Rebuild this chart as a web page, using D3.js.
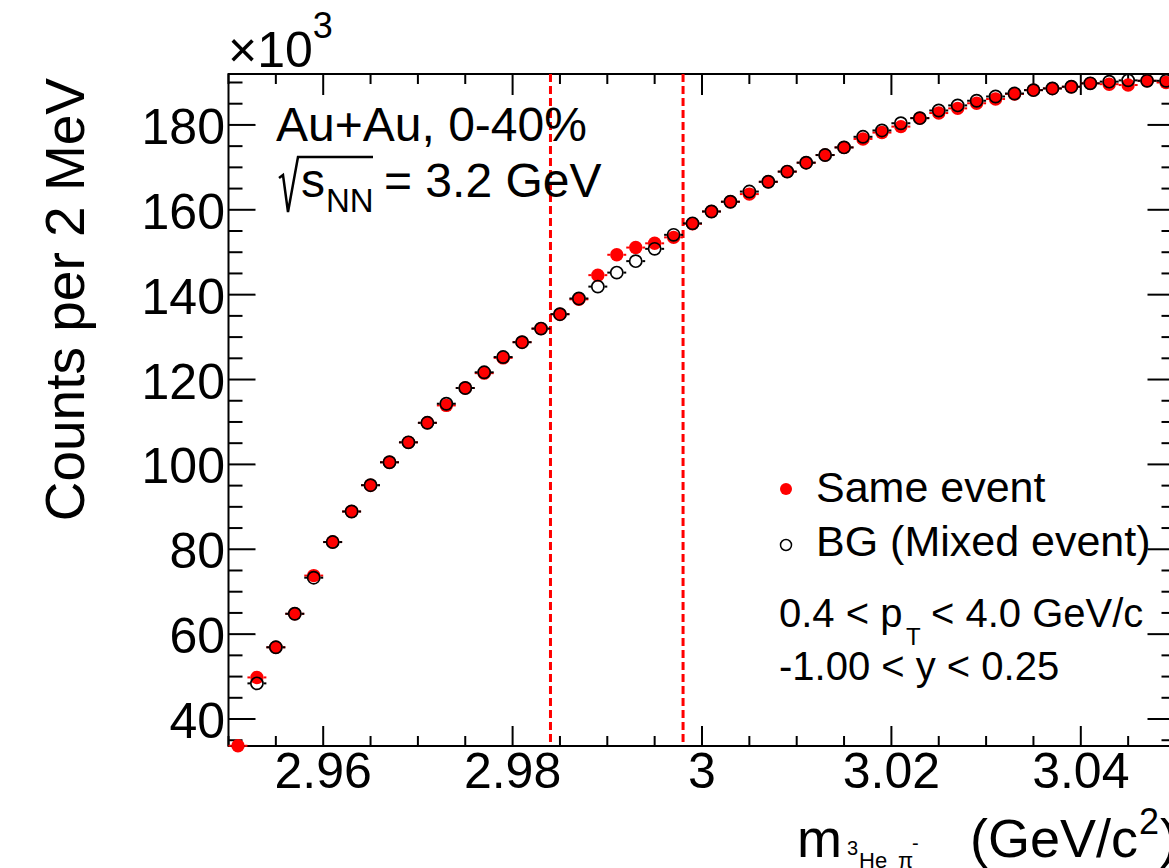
<!DOCTYPE html>
<html><head><meta charset="utf-8">
<script src="https://cdn.jsdelivr.net/npm/d3@7"></script>
<style>
html,body{margin:0;padding:0;background:#fff;overflow:hidden;}
svg{display:block;font-family:"Liberation Sans",Arial,Helvetica,sans-serif;}
</style></head><body>
<svg id="chart" width="1169" height="868"></svg>
<script>
// Invariant-mass bin centres (GeV/c^2), 2 MeV bins
const massBins = [2.951, 2.953, 2.955, 2.957, 2.959, 2.961, 2.963, 2.965, 2.967, 2.969,
                  2.971, 2.973, 2.975, 2.977, 2.979, 2.981, 2.983, 2.985, 2.987, 2.989,
                  2.991, 2.993, 2.995, 2.997, 2.999, 3.001, 3.003, 3.005, 3.007, 3.009,
                  3.011, 3.013, 3.015, 3.017, 3.019, 3.021, 3.023, 3.025, 3.027, 3.029,
                  3.031, 3.033, 3.035, 3.037, 3.039, 3.041, 3.043, 3.045, 3.047, 3.049];
// Counts per bin, in units of 10^3
const sameEvent = [33.7, 49.8, 56.9, 64.8, 73.8, 81.7, 88.9, 95.1, 100.5, 105.2,
                   109.8, 113.9, 118.0, 121.5, 125.1, 128.8, 132.0, 135.4, 138.9, 144.6,
                   149.4, 151.1, 152.1, 153.5, 156.7, 159.6, 161.9, 163.7, 166.6, 169.0,
                   171.1, 172.9, 174.7, 176.7, 178.2, 179.6, 181.6, 182.8, 183.9, 185.1,
                   186.1, 187.3, 188.2, 188.6, 189.0, 189.8, 189.6, 189.4, 190.4, 190.0];
const mixedEvent = [null, 48.4, 56.9, 64.8, 73.3, 81.7, 88.9, 95.1, 100.5, 105.2,
                    109.8, 114.3, 118.0, 121.7, 125.3, 128.8, 132.0, 135.4, 139.1, 141.9,
                    145.2, 147.9, 150.8, 154.1, 156.8, 159.6, 161.9, 164.3, 166.6, 169.0,
                    171.1, 172.9, 174.7, 177.2, 178.7, 180.4, 181.6, 183.4, 184.6, 185.7,
                    186.7, 187.4, 188.2, 188.6, 189.0, 189.8, 190.2, 190.5, 190.4, 190.4];
const binWidth = 0.002;
const xTickValues = [2.96, 2.98, 3.00, 3.02, 3.04];
const yTickValues = [40, 60, 80, 100, 120, 140, 160, 180];
const signalWindow = [2.984, 2.998];
const legendLabels = ["Same event", "BG (Mixed event)"];
const cutLabels = ["0.4 < p", "T", "< 4.0 GeV/c", "-1.00 < y < 0.25"];

const RED = "#ff0000";
const svg = d3.select("#chart");
const frame = {left: 228.5, right: 1175.5, top: 74, bottom: 746};
const x = d3.scaleLinear().domain([2.95, 3.05]).range([frame.left, frame.right]);
const y = d3.scaleLinear().domain([33.64, 192.0]).range([frame.bottom, frame.top]);

// ---- ticks on all four sides ----
const ticks = svg.append("g").attr("stroke", "#000").attr("stroke-width", 2);
const xMinor = x.ticks(20), yMinor = y.ticks(32);
const isMajorX = v => xTickValues.some(t => Math.abs(t - v) < 1e-6);
const isMajorY = v => yTickValues.some(t => Math.abs(t - v) < 1e-6);
xMinor.forEach(v => {
  const px = x(v), maj = isMajorX(v);
  ticks.append("line").attr("x1", px).attr("x2", px)
    .attr("y1", frame.bottom).attr("y2", frame.bottom - (maj ? 20 : 10));
  ticks.append("line").attr("x1", px).attr("x2", px)
    .attr("y1", frame.top).attr("y2", frame.top + (maj ? 21 : 10));
});
yMinor.forEach(v => {
  const py = y(v), maj = isMajorY(v);
  ticks.append("line").attr("y1", py).attr("y2", py)
    .attr("x1", frame.left).attr("x2", frame.left + (maj ? 27 : 14));
  ticks.append("line").attr("y1", py).attr("y2", py)
    .attr("x1", frame.right).attr("x2", frame.right - (maj ? 28 : 14));
});

// frame
svg.append("rect").attr("x", frame.left).attr("y", frame.top)
  .attr("width", frame.right - frame.left).attr("height", frame.bottom - frame.top)
  .attr("fill", "none").attr("stroke", "#000").attr("stroke-width", 2);

// tick labels
svg.append("g").selectAll("text").data(xTickValues).join("text")
  .attr("x", d => x(d)).attr("y", 788).attr("text-anchor", "middle")
  .attr("font-size", 50).text(d => d3.format("~g")(d));
svg.append("g").selectAll("text").data(yTickValues).join("text")
  .attr("x", 225).attr("y", d => y(d) + 19).attr("text-anchor", "end")
  .attr("font-size", 50).text(d => d);

// exponent
const expo = svg.append("text").attr("x", 228).attr("y", 67).attr("font-size", 50);
expo.append("tspan").text("\u00d710");
expo.append("tspan").attr("font-size", 36).attr("dy", -29).text("3");

// axis titles
svg.append("text").attr("transform", "translate(84,78) rotate(-90)")
  .attr("text-anchor", "end").attr("font-size", 55).text("Counts per 2 MeV");

const xt = svg.append("text").attr("y", 857).attr("font-size", 54);
xt.append("tspan").attr("x", 797).text("m");
xt.append("tspan").attr("x", 847).attr("y", 855).attr("font-size", 20).text("3");
xt.append("tspan").attr("x", 859).attr("y", 868).attr("font-size", 22).text("He");
xt.append("tspan").attr("x", 898).attr("y", 868).attr("font-size", 22).text("\u03c0");
xt.append("tspan").attr("x", 912).attr("y", 850).attr("font-size", 20).text("-");
xt.append("tspan").attr("x", 970).attr("y", 857).text("(GeV/c");
xt.append("tspan").attr("x", 1139).attr("y", 834).attr("font-size", 36).text("2");
xt.append("tspan").attr("x", 1160).attr("y", 857).text(")");

// signal window
svg.append("g").selectAll("line").data(signalWindow).join("line")
  .attr("x1", d => x(d)).attr("x2", d => x(d))
  .attr("y1", frame.top).attr("y2", frame.bottom)
  .attr("stroke", RED).attr("stroke-width", 3).attr("stroke-dasharray", "8,4");

// ---- data points ----
const R = 6.7;
const halfBin = (x(binWidth) - x(0)) / 2;
function drawSeries(values, color, filled) {
  const pts = massBins.map((m, i) => ({m, v: values[i]})).filter(d => d.v != null);
  const g = svg.append("g");
  pts.forEach(d => {
    const cx = x(d.m), cy = y(d.v);
    g.append("line").attr("x1", cx - halfBin).attr("x2", cx - R).attr("y1", cy).attr("y2", cy)
      .attr("stroke", color).attr("stroke-width", 2);
    g.append("line").attr("x1", cx + R).attr("x2", cx + halfBin).attr("y1", cy).attr("y2", cy)
      .attr("stroke", color).attr("stroke-width", 2);
    g.append("circle").attr("cx", cx).attr("cy", cy).attr("r", filled ? R : R - 0.6)
      .attr("fill", filled ? color : "none")
      .attr("stroke", filled ? "none" : color).attr("stroke-width", filled ? 0 : 1.7);
  });
}
drawSeries(sameEvent, RED, true);
drawSeries(mixedEvent, "#000", false);

// ---- labels ----
svg.append("text").attr("x", 276).attr("y", 141).attr("font-size", 48).text("Au+Au, 0-40%");
const sq = svg.append("g").attr("transform", "translate(278,0)");
sq.append("path").attr("d", "M1,178 L5,175 L10,212 L20,157 L95,157")
  .attr("fill", "none").attr("stroke", "#000").attr("stroke-width", 2.5)
  .attr("stroke-linejoin", "miter");
sq.append("text").attr("x", 23).attr("y", 197).attr("font-size", 48).text("s");
sq.append("text").attr("x", 48).attr("y", 212).attr("font-size", 33).text("NN");
sq.append("text").attr("x", 106).attr("y", 197).attr("font-size", 48).text("= 3.2 GeV");

// legend
const leg = svg.append("g");
leg.append("circle").attr("cx", 786).attr("cy", 489).attr("r", 6).attr("fill", RED);
leg.append("circle").attr("cx", 786).attr("cy", 545).attr("r", 5.5)
  .attr("fill", "none").attr("stroke", "#000").attr("stroke-width", 1.5);
leg.append("text").attr("x", 816).attr("y", 502).attr("font-size", 43).text(legendLabels[0]);
leg.append("text").attr("x", 816).attr("y", 556).attr("font-size", 43).text(legendLabels[1]);

const c1 = svg.append("text").attr("y", 627).attr("font-size", 40);
c1.append("tspan").attr("x", 779).text(cutLabels[0]);
c1.append("tspan").attr("x", 906).attr("y", 645).attr("font-size", 24).text(cutLabels[1]);
c1.append("tspan").attr("x", 931).attr("y", 627).text(cutLabels[2]);
svg.append("text").attr("x", 779).attr("y", 680).attr("font-size", 40).text(cutLabels[3]);
</script>
</body></html>
